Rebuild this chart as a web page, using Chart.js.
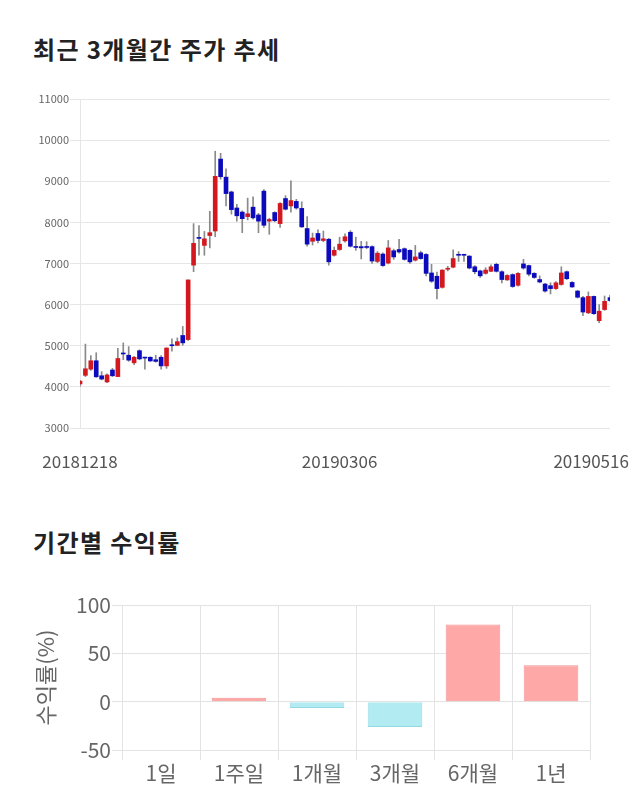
<!DOCTYPE html>
<html>
<head>
<meta charset="utf-8">
<script src="https://cdn.jsdelivr.net/npm/chart.js@4.4.0/dist/chart.umd.min.js"></script>
<style>
  html, body { margin: 0; padding: 0; background: #fff; }
  body { width: 640px; height: 810px; position: relative; overflow: hidden; font-family: 'Noto Sans CJK KR', 'Noto Sans', sans-serif; }
  .title { position: absolute; left: 33px; font-size: 24px; font-weight: bold; color: #222; line-height: 26px; margin: 0; letter-spacing: 1.4px; }
  canvas { position: absolute; left: 0; }
</style>
</head>
<body>
<div class="title" style="top:36px;">최근 3개월간 주가 추세</div>
<canvas id="c1" width="640" height="400" style="top:80px;"></canvas>
<div class="title" style="top:529px;">기간별 수익률</div>
<canvas id="c2" width="640" height="210" style="top:590px;"></canvas>
<script>
// ---- Candlestick data ----
const dates = [
  '20181218','20181219','20181220','20181221','20181224','20181226','20181227','20181228',
  '20190102','20190103','20190104','20190107','20190108','20190109','20190110','20190111',
  '20190114','20190115','20190116','20190117','20190118','20190121','20190122','20190123',
  '20190124','20190125','20190128','20190129','20190130','20190131',
  '20190201','20190207','20190208','20190211','20190212','20190213','20190214','20190215',
  '20190218','20190219','20190220','20190221','20190222','20190225','20190226','20190227','20190228',
  '20190305','20190306',
  '20190307','20190308','20190311','20190312','20190313','20190314','20190315','20190318',
  '20190319','20190320','20190321','20190322','20190325','20190326','20190327','20190328','20190329',
  '20190401','20190402','20190403','20190404','20190405','20190408','20190409','20190410',
  '20190411','20190412','20190415','20190416','20190417','20190418','20190419','20190422',
  '20190423','20190424','20190425','20190426','20190429','20190430',
  '20190501','20190502','20190503','20190507','20190508','20190509','20190510','20190513',
  '20190514','20190515','20190516'
];
const opens = [
  4070,4280,4430,4635,4270,4120,4410,4250,4815,4770,4585,4880,4710,4720,4660,4720,4510,5010,5010,5250,
  5150,6960,7630,7440,7680,7790,9540,9100,8740,8350,8250,8140,8370,8180,8760,8030,8240,7970,8580,8400,
  8510,8340,7850,7540,7730,7560,7590,7200,7340,7550,7760,7410,7410,7410,7410,7050,7230,7010,7310,7340,
  7360,7320,7080,7260,7220,6770,6690,6420,6860,6910,7210,7210,7180,6920,6820,6760,6810,6980,6800,6600,
  6730,6470,6990,6950,6760,6610,6500,6460,6390,6490,6800,6540,6330,6170,5800,6200,5610,5880,6170
];
const highs = [
  4160,5040,4760,4830,4370,4320,4450,4940,5070,4980,4740,4900,4720,4730,4770,4760,4950,5170,5190,5470,
  6600,7970,7920,7780,8270,9730,9680,9300,8760,8440,8280,8590,8620,8220,8800,8100,8260,8480,8650,9010,
  8560,8500,8140,7740,7820,7790,7610,7400,7640,7720,7800,7640,7540,7530,7430,7290,7260,7560,7350,7590,
  7380,7330,7440,7300,7240,6980,6790,6850,6930,7330,7290,7220,7190,6950,6840,6900,6970,7010,6820,6730,
  6750,6780,7100,6960,6780,6700,6520,6530,6560,6920,6820,6560,6350,6200,6310,6210,6000,6210,6230
];
const lows = [
  4010,4250,4400,4230,4170,4100,4250,4250,4660,4620,4540,4660,4430,4620,4600,4430,4450,4870,5000,5010,
  5130,6800,7200,7200,7380,7650,9050,8400,8200,8030,7750,8060,8080,7750,7880,7710,8010,7880,8300,8250,
  8320,7880,7420,7450,7500,7530,6960,7180,7320,7520,7400,7320,7110,7360,7000,7020,6930,6990,7100,7250,
  7080,7000,7060,7100,6700,6540,6140,6400,6820,6890,7050,7050,6870,6750,6660,6740,6800,6790,6530,6590,
  6420,6450,6860,6700,6640,6530,6300,6260,6370,6470,6610,6420,6160,5730,5780,5760,5560,5860,6080
];
const closes = [
  4140,4440,4635,4245,4190,4290,4270,4690,4800,4650,4720,4680,4700,4630,4620,4510,4945,5000,5100,5070,
  6600,7490,7610,7600,7750,9120,9110,8700,8310,8160,8090,8210,8110,8030,7930,8070,8040,8460,8320,8530,
  8350,7890,7470,7620,7560,7600,7040,7320,7470,7650,7420,7390,7380,7390,7060,7250,6950,7380,7160,7280,
  7100,7040,7160,7120,6760,6570,6390,6840,6880,7120,7200,7200,6890,6800,6700,6840,6920,6810,6610,6710,
  6440,6760,6890,6740,6660,6550,6330,6390,6530,6770,6630,6430,6180,5820,6200,5780,5840,6080,6100
];
const priceTicks = [3000, 11000, 1000]; // min, max, step
const shownDateIdx = [0, 48, 98];

// ---- Return data ----
const periods = ['1일','1주일','1개월','3개월','6개월','1년'];
const returns = [0, 4.1, -6.5, -26.3, 79.8, 37.7];
const returnTicks = [-50, 100, 50];

const RED = '#d3191f', BLUE = '#0b0bbd', WICK = '#8a8a8a';
const FONT = "'Noto Sans CJK KR', 'Noto Sans', sans-serif";
Chart.defaults.font.family = FONT;
Chart.defaults.animation = false;

const bodyColors = opens.map((o, i) => closes[i] >= o ? RED : BLUE);

new Chart(document.getElementById('c1'), {
  type: 'bar',
  data: {
    labels: dates,
    datasets: [
      {
        data: opens.map((o, i) => [o, closes[i]]),
        backgroundColor: bodyColors,
        borderWidth: 0,
        barThickness: 4,
        minBarLength: 1,
        grouped: false,
        order: 0
      },
      {
        data: lows.map((l, i) => [l, highs[i]]),
        backgroundColor: WICK,
        borderWidth: 0,
        barThickness: 1,
        grouped: false,
        order: 1
      }
    ]
  },
  options: {
    responsive: false,
    layout: { padding: { top: 19, right: 30, bottom: 0, left: 0 } },
    plugins: { legend: { display: false }, tooltip: { enabled: false } },
    scales: {
      x: {
        offset: false,
        grid: { display: false, drawTicks: false },
        border: { display: false },
        ticks: {
          autoSkip: false,
          maxRotation: 0,
          minRotation: 0,
          padding: 23,
          color: '#555',
          font: { size: 17 },
          callback: function (v, i) {
            if (!shownDateIdx.includes(i)) return '';
            const s = dates[i];
            return i === dates.length - 1 ? s + '\u2007\u2007\u2007\u2007' : s;
          }
        },
        afterFit: function (s) { s.height = 52; s.paddingLeft = 0; s.paddingRight = 0; }
      },
      y: {
        min: priceTicks[0], max: priceTicks[1],
        ticks: { stepSize: priceTicks[2], color: '#666', font: { size: 11 }, padding: 1,
                 callback: v => String(v) },
        grid: { color: '#e6e6e6', tickLength: 10 },
        border: { color: '#e6e6e6' },
        afterFit: function (s) { s.width = 80; }
      }
    }
  }
});

new Chart(document.getElementById('c2'), {
  type: 'bar',
  data: {
    labels: periods,
    datasets: [{
      data: returns,
      backgroundColor: returns.map(v => v >= 0 ? '#ffa8a8' : '#b3ebf3'),
      borderColor: returns.map(v => v >= 0 ? '#f39393' : '#93d9e4'),
      borderWidth: 1,
      categoryPercentage: 0.8,
      barPercentage: 0.875
    }]
  },
  options: {
    responsive: false,
    layout: { padding: { top: 15, right: 50, bottom: 0, left: 30 } },
    plugins: { legend: { display: false }, tooltip: { enabled: false } },
    scales: {
      x: {
        grid: { color: '#e3e3e3', tickLength: 10 },
        border: { color: '#e3e3e3' },
        ticks: { color: '#666', font: { size: 21 }, padding: 0 },
        afterFit: function (s) { s.height = 50; }
      },
      y: {
        min: returnTicks[0], max: returnTicks[1],
        ticks: { stepSize: returnTicks[2], color: '#666', font: { size: 21 }, padding: 1 },
        grid: { color: '#e3e3e3', tickLength: 10 },
        border: { color: '#e3e3e3' },
        title: { display: true, text: '수익률(%)', color: '#666', font: { size: 22 }, padding: { top: 2, bottom: 0 } },
        afterFit: function (s) { s.width = 92; }
      }
    }
  }
});
</script>
</body>
</html>
